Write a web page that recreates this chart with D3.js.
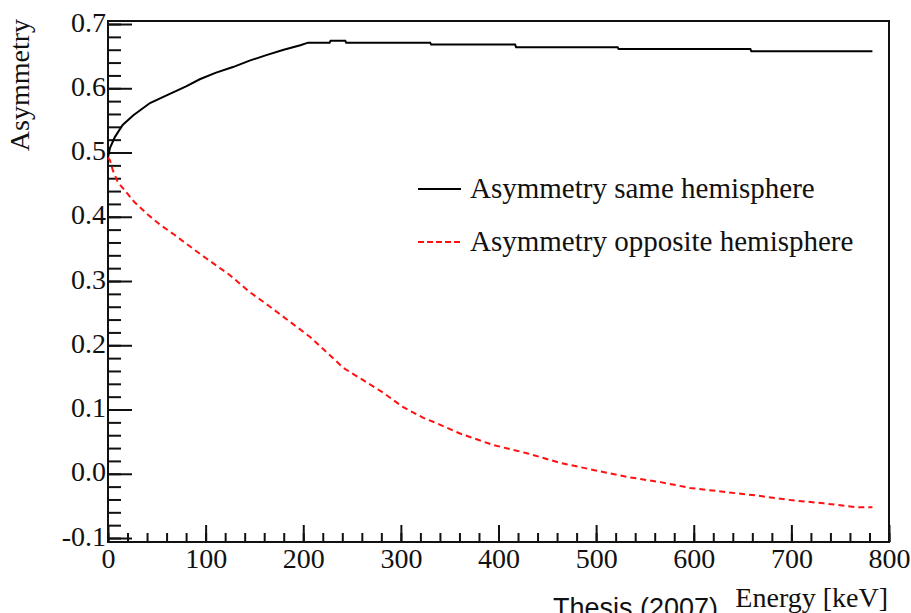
<!DOCTYPE html>
<html>
<head>
<meta charset="utf-8">
<script src="https://cdn.jsdelivr.net/npm/d3@7"></script>
<style>
  html, body { margin: 0; padding: 0; background: #fff; }
  svg { display: block; }
  text { font-family: "Liberation Serif", "Times New Roman", serif; fill: #111; }
</style>
</head>
<body>
<div id="chart"></div>
<script>
// asymmetry vs. energy
var sameEnergy = [0, 2, 7, 15, 26, 43, 60, 80, 94, 110, 128, 145, 163, 180, 197, 205,
    227, 228, 243, 244, 330, 331, 417, 418, 522, 523, 658, 659, 783];
var sameValue = [0.492, 0.507, 0.524, 0.543, 0.558, 0.577, 0.589, 0.603, 0.614, 0.624, 0.633, 0.643,
    0.652, 0.660, 0.667, 0.671, 0.671, 0.674, 0.674, 0.671, 0.671, 0.668, 0.668, 0.664,
    0.664, 0.661, 0.661, 0.6575, 0.6575];

var oppEnergy = [0, 2, 5, 10, 15, 27, 41, 54, 68, 82, 99, 125, 145, 166, 186, 207, 227, 241,
    261, 282, 302, 323, 333, 360, 394, 429, 463, 497, 532, 566, 596, 630, 665, 699, 733, 767, 783];
var oppValue = [0.492, 0.488, 0.472, 0.454, 0.445, 0.423, 0.403, 0.387, 0.372, 0.356, 0.337, 0.309,
    0.283, 0.260, 0.237, 0.213, 0.185, 0.165, 0.146, 0.126, 0.104, 0.087, 0.081, 0.063, 0.045,
    0.032, 0.017, 0.006, -0.005, -0.013, -0.022, -0.028, -0.034, -0.041, -0.046, -0.052, -0.052];

var xTickValues = [0, 100, 200, 300, 400, 500, 600, 700, 800];
var yTickValues = [-0.1, 0, 0.1, 0.2, 0.3, 0.4, 0.5, 0.6, 0.7];
var legendLabels = ["Asymmetry same hemisphere", "Asymmetry opposite hemisphere"];

var width = 911,
    height = 613,
    margin = {top: 21, right: 22, bottom: 71, left: 108},
    plotW = width - margin.left - margin.right,
    plotH = height - margin.top - margin.bottom;

var svg = d3.select("#chart").append("svg")
    .attr("width", width)
    .attr("height", height);

var x = d3.scaleLinear().domain([0, 800]).range([0, plotW]),
    y = d3.scaleLinear().domain([-0.1062, 0.7047]).range([plotH, 0]);

// plain hyphen for negatives, like the original
var fmt = d3.format(".1f");
function yLabel(d) { return fmt(d).replace("\u2212", "-"); }

var g = svg.append("g")
    .attr("transform", "translate(" + margin.left + "," + margin.top + ")");

// minor ticks first, then major ones with labels
g.append("g")
    .attr("transform", "translate(0," + plotH + ")")
    .call(d3.axisBottom(x).ticks(40).tickSize(-9).tickSizeOuter(0).tickFormat(""));
g.append("g")
    .attr("transform", "translate(0," + plotH + ")")
    .attr("class", "xaxis")
    .call(d3.axisBottom(x).tickValues(xTickValues).tickSize(-17).tickSizeOuter(0).tickPadding(6));

g.append("g")
    .call(d3.axisLeft(y).ticks(40).tickSize(-13).tickSizeOuter(0).tickFormat(""));
g.append("g")
    .attr("class", "yaxis")
    .call(d3.axisLeft(y).tickValues(yTickValues).tickSize(-24).tickSizeOuter(0)
        .tickPadding(2).tickFormat(yLabel));

g.selectAll(".domain").remove();
g.selectAll(".tick line").attr("stroke", "#111").attr("stroke-width", 2);
g.selectAll(".tick text")
    .attr("fill", "#111")
    .style("font-family", "'Liberation Serif', serif")
    .style("font-size", "28px");
g.selectAll(".yaxis .tick text").attr("dy", "0.25em");

g.append("rect")
    .attr("width", plotW)
    .attr("height", plotH)
    .attr("fill", "none")
    .attr("stroke", "#111")
    .attr("stroke-width", 2);

var line = d3.line()
    .x(function (d) { return x(d[0]); })
    .y(function (d) { return y(d[1]); });

g.append("path")
    .datum(d3.zip(sameEnergy, sameValue))
    .attr("fill", "none")
    .attr("stroke", "#000")
    .attr("stroke-width", 2)
    .attr("d", line);

g.append("path")
    .datum(d3.zip(oppEnergy, oppValue))
    .attr("fill", "none")
    .attr("stroke", "#ff1010")
    .attr("stroke-width", 2)
    .attr("stroke-dasharray", "6,4")
    .attr("d", line);

// legend
var legend = svg.append("g").attr("transform", "translate(418,189)");
var legendStyles = [{color: "#000", dash: null}, {color: "#ff1010", dash: "6,3"}];
legendLabels.forEach(function (label, i) {
    var row = legend.append("g").attr("transform", "translate(0," + (i * 53) + ")");
    row.append("line")
        .attr("x1", 0).attr("x2", 43)
        .attr("stroke", legendStyles[i].color)
        .attr("stroke-width", 2)
        .attr("stroke-dasharray", legendStyles[i].dash);
    row.append("text")
        .attr("x", 52)
        .attr("y", 9)
        .style("font-size", "29px")
        .text(label);
});

// axis titles
svg.append("text")
    .attr("x", margin.left + plotW - 1)
    .attr("y", 607)
    .attr("text-anchor", "end")
    .style("font-size", "28px")
    .text("Energy [keV]");

svg.append("text")
    .attr("transform", "translate(29,19) rotate(-90)")
    .attr("text-anchor", "end")
    .style("font-size", "28px")
    .text("Asymmetry");

// caption cut off at the bottom edge of the picture
svg.append("text")
    .attr("x", 553)
    .attr("y", 617)
    .style("font-family", "'Liberation Sans', sans-serif")
    .style("font-size", "27px")
    .attr("fill", "#000")
    .text("Thesis (2007)");
</script>
</body>
</html>
